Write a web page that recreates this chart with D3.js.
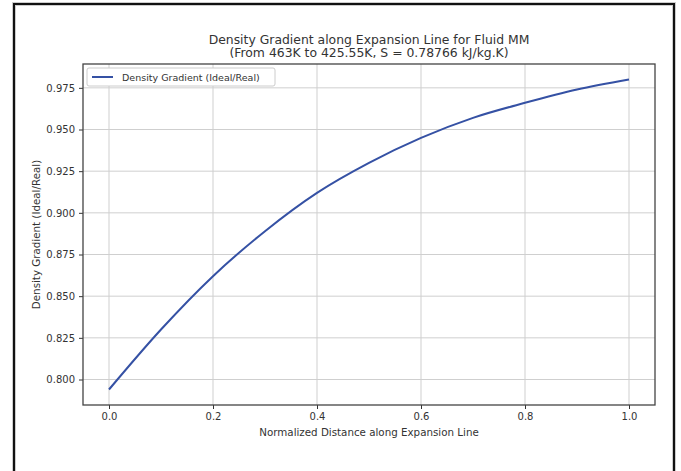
<!DOCTYPE html>
<html>
<head>
<meta charset="utf-8">
<script src="https://cdn.jsdelivr.net/npm/d3@7"></script>
<style>
    body { margin: 0; background: #fff; }
    text { font-family: "DejaVu Sans", sans-serif; fill: #333; }
</style>
</head>
<body>
<div id="chart_div"></div>
<script>
const distance = [0.0, 0.1, 0.2, 0.3, 0.4, 0.5, 0.6, 0.7, 0.8, 0.9, 1.0];
const gradient = [0.794, 0.830, 0.862, 0.889, 0.912, 0.930, 0.945, 0.957, 0.966, 0.974, 0.980];
const xTicks = [0.0, 0.2, 0.4, 0.6, 0.8, 1.0];
const yTicks = [0.800, 0.825, 0.850, 0.875, 0.900, 0.925, 0.950, 0.975];

const width = 681;
const height = 471;
const plotLeft = 83, plotRight = 655, plotTop = 64, plotBottom = 405;

const svg = d3.select("#chart_div")
    .append("svg")
    .attr("width", width)
    .attr("height", height);

// outer frame
svg.append("rect")
    .attr("x", 14).attr("y", 4)
    .attr("width", 660).attr("height", 480)
    .attr("fill", "none")
    .attr("stroke", "#ccc")
    .attr("stroke-width", 4);
svg.append("rect")
    .attr("x", 14).attr("y", 4)
    .attr("width", 660).attr("height", 480)
    .attr("fill", "none")
    .attr("stroke", "#111")
    .attr("stroke-width", 2);

const x = d3.scaleLinear()
    .domain([-0.05, 1.05])
    .range([plotLeft, plotRight]);

const yMin = d3.min(gradient), yMax = d3.max(gradient);
const pad = (yMax - yMin) * 0.05;
const y = d3.scaleLinear()
    .domain([yMin - pad, yMax + pad])
    .range([plotBottom, plotTop]);

// grid
svg.append("g")
    .selectAll("line")
    .data(xTicks)
    .enter()
    .append("line")
    .attr("x1", d => x(d)).attr("x2", d => x(d))
    .attr("y1", plotTop).attr("y2", plotBottom)
    .attr("stroke", "#cfcfcf");

svg.append("g")
    .selectAll("line")
    .data(yTicks)
    .enter()
    .append("line")
    .attr("x1", plotLeft).attr("x2", plotRight)
    .attr("y1", d => y(d)).attr("y2", d => y(d))
    .attr("stroke", "#cfcfcf");

const xAxis = (g) => g.append("g")
    .attr("transform", `translate(0, ${plotBottom})`)
    .call(d3.axisBottom(x).tickValues(xTicks).tickFormat(d3.format(".1f")).tickSize(4).tickPadding(4))
    .call(g => g.select(".domain").remove())
    .call(g => g.selectAll("line").attr("stroke", "#333"))
    .call(g => g.selectAll("text").attr("font-size", 10).attr("fill", "#333"));

const yAxis = (g) => g.append("g")
    .attr("transform", `translate(${plotLeft}, 0)`)
    .call(d3.axisLeft(y).tickValues(yTicks).tickFormat(d3.format(".3f")).tickSize(4).tickPadding(4))
    .call(g => g.select(".domain").remove())
    .call(g => g.selectAll("line").attr("stroke", "#333"))
    .call(g => g.selectAll("text").attr("font-size", 10).attr("fill", "#333"));

svg.call(xAxis);
svg.call(yAxis);

// data line
const line = d3.line()
    .x((d, i) => x(distance[i]))
    .y(d => y(d))
    .curve(d3.curveMonotoneX);

svg.append("path")
    .datum(gradient)
    .attr("d", line)
    .attr("fill", "none")
    .attr("stroke", "#3551a4")
    .attr("stroke-width", 2);

// spines
svg.append("rect")
    .attr("x", plotLeft).attr("y", plotTop)
    .attr("width", plotRight - plotLeft).attr("height", plotBottom - plotTop)
    .attr("fill", "none")
    .attr("stroke", "#444")
    .attr("stroke-width", 1.3);

// legend
const legend = svg.append("g");
legend.append("rect")
    .attr("x", 87).attr("y", 68)
    .attr("width", 188).attr("height", 18)
    .attr("rx", 2)
    .attr("fill", "#fff")
    .attr("stroke", "#ccc");
legend.append("line")
    .attr("x1", 92).attr("x2", 113)
    .attr("y1", 77).attr("y2", 77)
    .attr("stroke", "#3551a4")
    .attr("stroke-width", 2);
legend.append("text")
    .attr("x", 122).attr("y", 80.5)
    .attr("font-size", 9.5)
    .text("Density Gradient (Ideal/Real)");

// titles
svg.append("text")
    .attr("x", (plotLeft + plotRight) / 2).attr("y", 43.5)
    .attr("text-anchor", "middle")
    .attr("font-size", 12.4)
    .attr("fill", "#222")
    .text("Density Gradient along Expansion Line for Fluid MM");
svg.append("text")
    .attr("x", (plotLeft + plotRight) / 2).attr("y", 57)
    .attr("text-anchor", "middle")
    .attr("font-size", 12.4)
    .attr("fill", "#222")
    .text("(From 463K to 425.55K, S = 0.78766 kJ/kg.K)");

svg.append("text")
    .attr("x", (plotLeft + plotRight) / 2).attr("y", 436)
    .attr("text-anchor", "middle")
    .attr("font-size", 10.3)
    .text("Normalized Distance along Expansion Line");

svg.append("text")
    .attr("transform", `translate(40, ${(plotTop + plotBottom) / 2}) rotate(-90)`)
    .attr("text-anchor", "middle")
    .attr("font-size", 10.3)
    .text("Density Gradient (Ideal/Real)");
</script>
</body>
</html>
